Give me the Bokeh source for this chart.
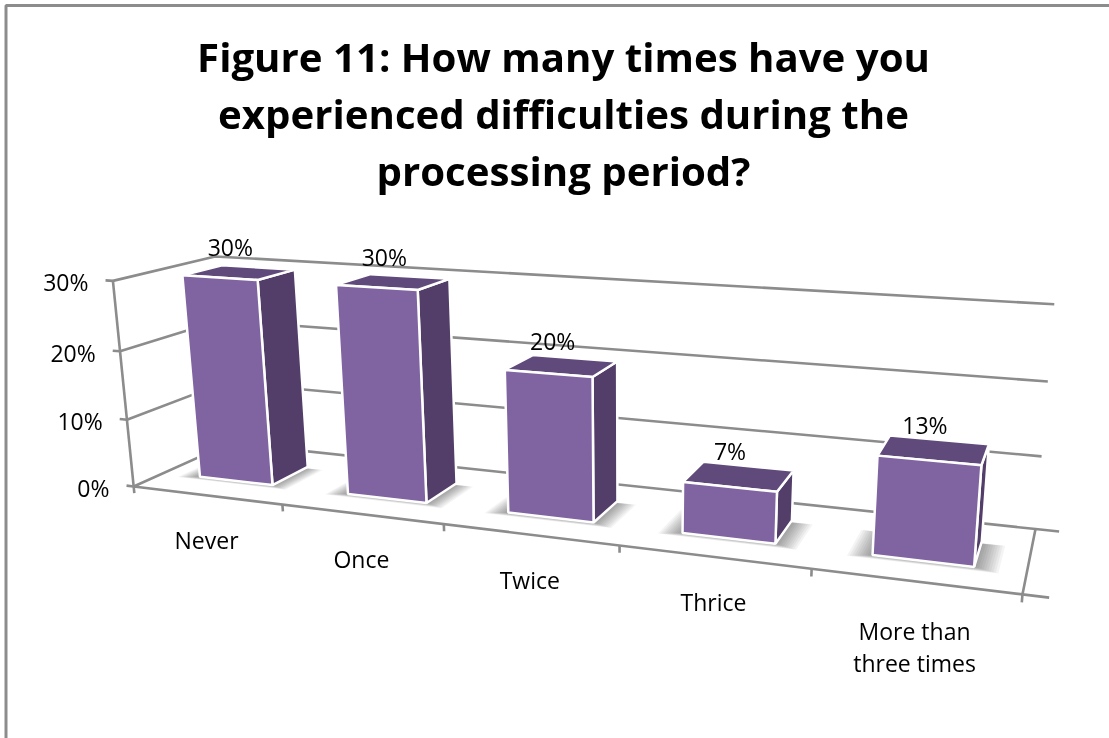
import numpy as np
from bokeh.plotting import figure
from bokeh.models import Range1d
from bokeh.core.properties import value
from bokeh.embed import file_html
from bokeh.resources import INLINE

categories = ["Never", "Once", "Twice", "Thrice", ["More than", "three times"]]
percent = [30, 30, 20, 7, 13]
value_ticks = [0, 10, 20, 30]
title_lines = ["Figure 11: How many times have you",
               "experienced difficulties during the",
               "processing period?"]

W, H = 1109, 738
FONT = "Open Sans"
GRID = "#8C8C8C"
FRONT, TOP, SIDE = "#8063A1", "#604A7B", "#523E69"
N = len(percent)
ZMAX = max(value_ticks)

# camera calibration: (category position, depth 0-1, value) -> chart pixel
calib = [
    (0, 0, 0, 132, 487), (1, 0, 0, 282, 505), (2, 0, 0, 443, 524), (3, 0, 0, 619, 545),
    (4, 0, 0, 811, 568), (5, 0, 0, 1022, 593), (0, 0, 30, 114, 279), (0, 1, 30, 213, 257),
    (5, 1, 30, 1054, 304), (5, 1, 0, 1035, 529), (0, 1, 0, 231, 441),
]
A = []
for X, D, Z, u, v in calib:
    A.append([X, D, Z, 1, 0, 0, 0, 0, -u*X, -u*D, -u*Z, -u])
    A.append([0, 0, 0, 0, X, D, Z, 1, -v*X, -v*D, -v*Z, -v])
M = np.linalg.svd(np.array(A, float))[2][-1].reshape(3, 4)


def proj(X, D, Z):
    q = M @ np.array([X, D, Z, 1.0])
    return q[0]/q[2], q[1]/q[2]


def poly(points):
    pts = [proj(*c) for c in points]
    return [a for a, _ in pts], [b for _, b in pts]


p = figure(width=W, height=H, x_range=Range1d(0, W), y_range=Range1d(H, 0),
           x_axis_type=None, y_axis_type=None, toolbar_location=None,
           output_backend="svg", min_border=0, outline_line_color=None,
           styles={"position": "fixed", "left": "0px", "top": "0px"})
p.grid.visible = False

# chart frame
p.line([5.5, 5.5, W], [H, 5, 5], line_color=GRID, line_width=3)

# walls and floor lines
xs, ys = [], []
for z in value_ticks:
    a, b = poly([(0, 0, z), (0, 1, z), (N, 1, z)])
    xs.append(a); ys.append(b)
    a, b = poly([(-0.05, 0, z), (0, 0, z)])
    xs.append(a); ys.append(b)
for seg in ([(0, 0, 0), (0, 0, ZMAX)], [(0, 0, 0), (N, 0, 0), (N, 1, 0), (N+0.12, 1, 0)],
            [(N, 0, 0), (N+0.12, 0, 0)]):
    a, b = poly(seg)
    xs.append(a); ys.append(b)
for i in range(N+1):
    a, b = poly([(i, 0, 0), (i, 0, -1)])
    xs.append(a); ys.append(b)
p.multi_line(xs, ys, line_color=GRID, line_width=2.6)

X0, X1 = 0.25, 0.75
D0, D1 = 0.3, 0.7
for i, val in enumerate(percent):
    l, r = i+X0, i+X1
    # soft floor shadow as nested translucent footprints
    for k in range(10):
        g = 0.12 - k*0.012
        a, b = poly([(l-g, D0-g*0.45, 0), (r+g, D0-g*0.45, 0), (r+g, D1-0.04+g*0.1, 0), (l-g, D1-0.04+g*0.1, 0)])
        p.patch(a, b, fill_color="#000000", fill_alpha=0.045, line_color=None)
    a, b = poly([(r, D0, 0), (r, D1, 0), (r, D1, val), (r, D0, val)])
    p.patch(a, b, fill_color=SIDE, line_color="#FFFFFF", line_width=2.5)
    a, b = poly([(l, D0, val), (r, D0, val), (r, D1, val), (l, D1, val)])
    p.patch(a, b, fill_color=TOP, line_color="#FFFFFF", line_width=2.5)
    a, b = poly([(l, D0, 0), (r, D0, 0), (r, D0, val), (l, D0, val)])
    p.patch(a, b, fill_color=FRONT, line_color="#FFFFFF", line_width=2.5)

# value labels above bars
pos = [proj(i+0.5, 0.5, v) for i, v in enumerate(percent)]
p.text([q[0]-9 for q in pos], [q[1]-25 for q in pos], text=[f"{v}%" for v in percent],
       text_font=value(FONT), text_font_size="23px", text_color="#000000",
       text_align="center", text_baseline="middle")

# value axis labels
pos = [proj(-0.05, 0, z) for z in value_ticks]
p.text([q[0]-17 for q in pos], [q[1]+2 for q in pos], text=[f"{z}%" for z in value_ticks],
       text_font=value(FONT), text_font_size="23px", text_color="#000000",
       text_align="right", text_baseline="middle")

# category labels
tx, ty, tt = [], [], []
for i, c in enumerate(categories):
    u, v = proj(i+0.5, 0, 0)
    lines = c if isinstance(c, list) else [c]
    for j, s in enumerate(lines):
        tx.append(u); ty.append(v+(50 if len(lines) > 1 else 45)+32*j); tt.append(s)
p.text(tx, ty, text=tt, text_font=value(FONT), text_font_size="23px", text_color="#000000",
       text_align="center", text_baseline="middle")

# title
p.text([563]*3, [56, 113, 170], text=title_lines, text_font=value(FONT),
       text_font_size="40.2px", text_font_style="bold", text_color="#000000",
       text_align="center", text_baseline="middle")

open("out.html", "w").write(file_html(p, INLINE))
